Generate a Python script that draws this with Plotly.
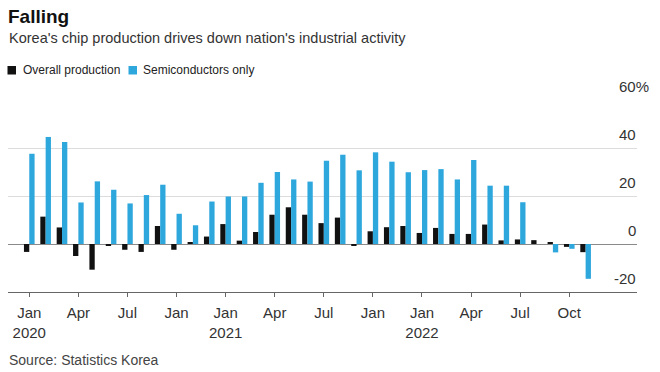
import plotly.graph_objects as go

# ---- data ----
months = [f"{y}-{m:02d}" for y in (2020, 2021, 2022) for m in range(1, 13)][:35]
overall = [-3.3, 11.4, 6.9, -5.0, -10.7, -0.7, -2.4, -3.3, 7.5, -2.4, 0.6, 3.1,
           8.3, 1.4, 5.0, 12.2, 15.3, 12.2, 8.7, 11.0, -0.7, 5.3, 7.0, 7.5,
           4.6, 6.7, 4.2, 4.2, 8.1, 1.5, 1.9, 1.6, 0.6, -1.2, -3.4]
semis = [37.6, 44.6, 42.5, 17.3, 26.1, 22.6, 16.9, 20.4, 24.7, 12.6, 7.8, 17.7,
         19.8, 19.8, 25.5, 30.0, 26.9, 26.0, 34.7, 37.2, 30.7, 38.2, 34.3, 29.9,
         30.8, 31.2, 26.9, 35.0, 24.3, 24.3, 17.4, 0.0, -3.5, -2.0, -14.5]
tick_months = months[0::3]
tick_labels = ["Jan<br>2020", "Apr", "Jul", "Jan", "Jan<br>2021", "Apr", "Jul", "Jan",
               "Jan<br>2022", "Apr", "Jul", "Oct"]
y_ticks = [-20, 0, 20, 40, 60]
series_names = ["Overall production", "Semiconductors only"]
series_colors = ["#111111", "#2ea7dd"]

FONT = "Liberation Sans, Arial, sans-serif"

fig = go.Figure()
fig.add_bar(x=months, y=overall, name=series_names[0], marker_color=series_colors[0],
            marker_line_width=0)
fig.add_bar(x=months, y=semis, name=series_names[1], marker_color=series_colors[1],
            marker_line_width=0)

W, H = 660, 372
L, R, T, B = 8, 23, 100, 80
pw, ph = W - L - R, H - T - B

def px(x):
    return (x - L) / pw

def py(y):
    return (H - B - y) / ph

annotations = []
# y labels above gridlines
for v in y_ticks:
    txt = f"{v}%" if v == y_ticks[-1] else f"{v}"
    annotations.append(dict(xref="paper", yref="y", x=1, y=v, text=txt, showarrow=False,
                            xanchor="right", yanchor="middle",
                            xshift=1 + (13 if v == y_ticks[-1] else 0), yshift=14,
                            font=dict(size=15, color="#333", family=FONT)))
# title, subtitle
annotations.append(dict(xref="paper", yref="paper", x=px(6), y=py(17), text="<b>Falling</b>",
                        showarrow=False, xanchor="left", yanchor="middle",
                        font=dict(size=19, color="#111", family=FONT)))
annotations.append(dict(xref="paper", yref="paper", x=px(7), y=py(38),
                        text="Korea's chip production drives down nation's industrial activity",
                        showarrow=False, xanchor="left", yanchor="middle",
                        font=dict(size=14.5, color="#333", family=FONT)))
# legend
leg_x = [21, 141]
sq_x = [7.5, 128.5]
shapes = []
for name, col, tx, sx in zip(series_names, series_colors, leg_x, sq_x):
    annotations.append(dict(xref="paper", yref="paper", x=px(tx), y=py(70), text=name,
                            showarrow=False, xanchor="left", yanchor="middle",
                            font=dict(size=12, color="#222", family=FONT)))
    shapes.append(dict(type="rect", xref="paper", yref="paper", x0=px(sx), x1=px(sx + 8.5),
                       y0=py(74.5), y1=py(66), fillcolor=col, line_width=0))
# source
annotations.append(dict(xref="paper", yref="paper", x=px(7), y=py(360),
                        text="Source: Statistics Korea", showarrow=False,
                        xanchor="left", yanchor="middle",
                        font=dict(size=14, color="#444", family=FONT)))

fig.update_layout(
    width=W, height=H,
    margin=dict(l=L, r=R, t=T, b=B, pad=0),
    paper_bgcolor="white", plot_bgcolor="white",
    barmode="group", bargap=0.35, bargroupgap=0,
    showlegend=False,
    font=dict(family=FONT, color="#333"),
    annotations=annotations, shapes=shapes,
    xaxis=dict(type="category", range=[-1.3, 37.14], tickmode="array",
               tickvals=tick_months, ticktext=tick_labels,
               ticks="outside", ticklen=4, tickcolor="#666", tickwidth=1,
               ticklabelstandoff=3,
               showline=True, linecolor="#666", linewidth=1, showgrid=False,
               zeroline=False, tickfont=dict(size=15, color="#333", family=FONT),
               tickangle=0, fixedrange=True),
    yaxis=dict(range=[-20, 60], tickmode="array", tickvals=y_ticks[1:],
               showticklabels=False, showgrid=True, gridcolor="#dcdcdc", gridwidth=1,
               zeroline=True, zerolinecolor="#8a8a8a", zerolinewidth=1,
               showline=False, ticks="", fixedrange=True),
)

fig.write_html("out.html", config={"displayModeBar": False},
               post_script="document.body.style.margin='0';document.body.style.overflow='hidden';")
